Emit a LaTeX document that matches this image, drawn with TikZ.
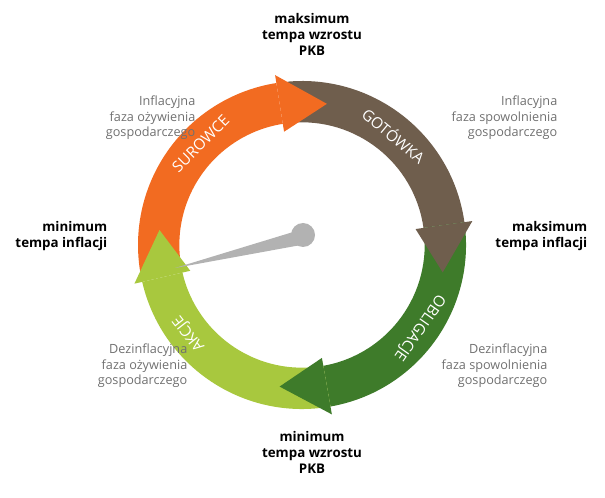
\documentclass[tikz,border=0pt]{standalone}
\usepackage{fontspec}
\setmainfont{Open Sans}
\usetikzlibrary{calc}
\definecolor{cOr}{HTML}{F26B21}
\definecolor{cBr}{HTML}{6F5E4D}
\definecolor{cDg}{HTML}{3E7B2A}
\definecolor{cLg}{HTML}{A8C83E}
\definecolor{cTx}{HTML}{707070}
\newcommand\ringbody[3]{%
\fill[#1] ($(c)+(#2:123pt)$) arc[start angle=#2,end angle=#3,radius=123pt] -- ($(c)+(#3:92pt)$) arc[start angle=#3,end angle=#2,radius=92pt] -- cycle;}
\newcommand\ringhead[3]{%
\fill[#1] ($(c)+(#2:129pt)$) -- ($(c)+(#3:107.5pt)$) -- ($(c)+(#2:86pt)$) -- cycle;}
\tikzset{bold/.style={font=\bfseries\fontsize{10}{12}\selectfont,align=center,text=black},
 gray/.style={font=\fontsize{9.5}{11.5}\selectfont,text=cTx},
 ring/.style={font=\fontsize{11.5}{13}\selectfont,text=white}}
\begin{document}
\begin{tikzpicture}[x=0.75pt,y=-0.75pt]
\useasboundingbox (0,0) rectangle (605,498);
\coordinate (c) at (302,245);
\ringbody{cBr}{95}{8}
\ringbody{cDg}{8}{-80}
\ringbody{cLg}{-80}{-167}
\ringbody{cOr}{190}{99}
\ringhead{cBr}{8}{-11}
\ringhead{cDg}{-80}{-99}
\ringhead{cLg}{-167}{-186}
\ringhead{cOr}{99}{80}
\fill[gray!60] (303,229) -- (175,268) -- (301,245) -- cycle;
\fill[gray!60] (303,235) circle[radius=9pt];
\node[ring,rotate=45] (s) at ($(c)+(135:107.5pt)$) {SUROWCE};
\node[ring,rotate=-40] (g) at ($(c)+(50:107.5pt)$) {GOTÓWKA};
\node[ring,rotate=-125] (o) at ($(c)+(-35:107.5pt)$) {OBLIGACJE};
\node[ring,rotate=128] (a) at ($(c)+(-142:107.5pt)$) {AKCJE};
\node[bold] (t1) at (312,34) {maksimum\\tempa wzrostu\\PKB};
\node[bold] (t2) at (312,452) {minimum\\tempa wzrostu\\PKB};
\node[bold,align=right,anchor=east] (t3) at (112,236) {minimum\\tempa inflacji};
\node[bold,align=right,anchor=east] (t4) at (592,236) {maksimum\\tempa inflacji};
\node[gray,align=right,anchor=east] (g1) at (200,118) {Inflacyjna\\faza ożywienia\\gospodarczego};
\node[gray,align=right,anchor=east] (g2) at (562,118) {Inflacyjna\\faza spowolnienia\\gospodarczego};
\node[gray,align=right,anchor=east] (g3) at (192,366) {Dezinflacyjna\\faza ożywienia\\gospodarczego};
\node[gray,align=right,anchor=east] (g4) at (552,366) {Dezinflacyjna\\faza spowolnienia\\gospodarczego};
\end{tikzpicture}
\end{document}
